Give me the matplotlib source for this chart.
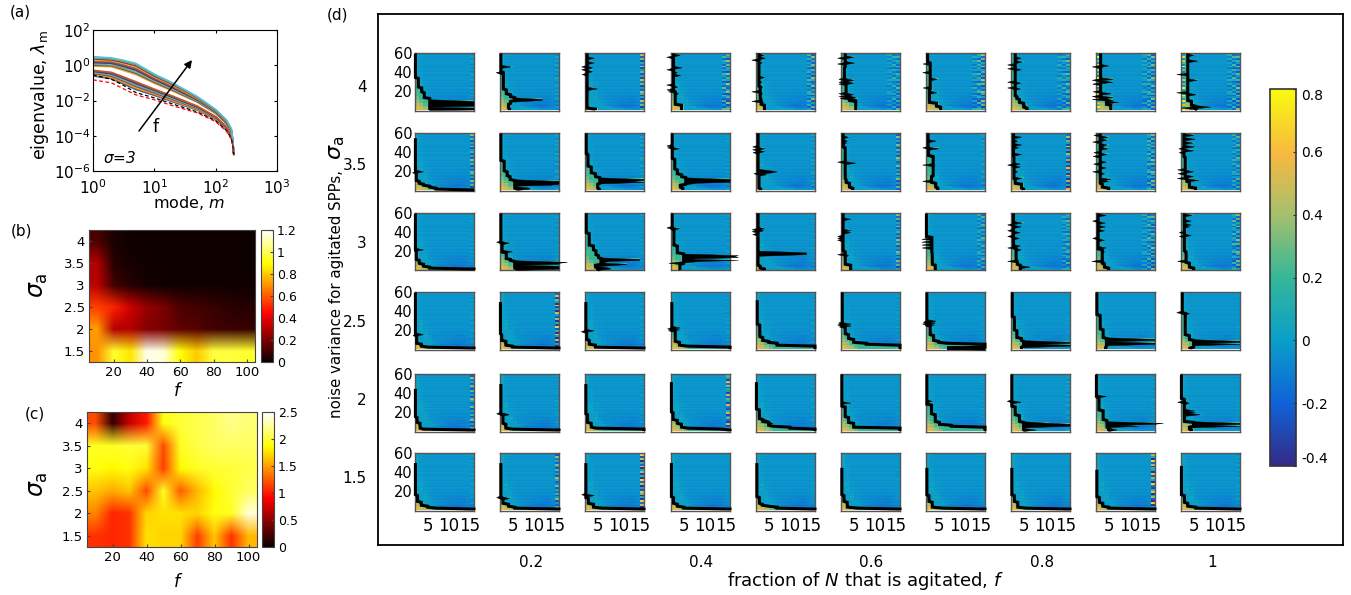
from __future__ import annotations

import matplotlib

matplotlib.use("Agg")

import matplotlib.pyplot as plt
import numpy as np
from matplotlib.cm import ScalarMappable
from matplotlib.colors import LinearSegmentedColormap, Normalize

W, H = 1351, 595

# panel (a): log10 of the eigenvalue at each mode, one row per curve
MODES = [1, 2, 3, 5, 10, 20, 50, 100, 150, 180, 190, 197]
EIG_RED = [-.83, -1.00, -1.30, -1.68, -1.96, -2.30, -2.70, -3.20, -3.75, -4.20, -4.55, -5.07]
EIG_BLACK = [-.55, -.80, -1.10, -1.55, -1.85, -2.20, -2.65, -3.15, -3.70, -4.15, -4.50, -5.07]
EIG_LOG = [
    [-.61, -.76, -1.03, -1.38, -1.71, -2.08, -2.54, -3.08, -3.64, -4.10, -4.49, -5.07],
    [-.57, -.72, -.98, -1.32, -1.67, -2.04, -2.51, -3.06, -3.62, -4.08, -4.48, -5.07],
    [-.53, -.67, -.93, -1.27, -1.62, -2.00, -2.49, -3.04, -3.60, -4.06, -4.47, -5.07],
    [-.47, -.62, -.87, -1.20, -1.57, -1.95, -2.45, -3.01, -3.57, -4.04, -4.46, -5.05],
    [-.43, -.57, -.82, -1.14, -1.52, -1.91, -2.42, -2.99, -3.55, -4.02, -4.45, -5.05],
    [-.39, -.53, -.77, -1.09, -1.48, -1.87, -2.39, -2.97, -3.54, -4.00, -4.43, -5.05],
    [-.35, -.49, -.72, -1.04, -1.43, -1.83, -2.37, -2.95, -3.52, -3.98, -4.42, -5.03],
    [-.31, -.45, -.68, -.98, -1.39, -1.79, -2.34, -2.93, -3.50, -3.97, -4.41, -5.03],
    [-.28, -.40, -.63, -.93, -1.35, -1.75, -2.31, -2.91, -3.48, -3.95, -4.40, -5.03],
    [-.05, -.09, -.28, -.53, -1.03, -1.47, -2.10, -2.75, -3.33, -3.82, -4.33, -5.00],
    [.00, -.03, -.21, -.46, -.97, -1.42, -2.07, -2.72, -3.31, -3.79, -4.31, -5.00],
    [.05, .01, -.16, -.41, -.92, -1.38, -2.04, -2.70, -3.29, -3.77, -4.30, -5.00],
    [.10, .07, -.10, -.34, -.86, -1.33, -2.00, -2.68, -3.26, -3.75, -4.29, -4.98],
    [.15, .11, -.05, -.28, -.82, -1.29, -1.97, -2.65, -3.24, -3.73, -4.28, -4.98],
    [.20, .16, .01, -.21, -.76, -1.23, -1.94, -2.63, -3.22, -3.71, -4.26, -4.98],
    [.25, .21, .06, -.16, -.72, -1.20, -1.91, -2.60, -3.20, -3.69, -4.25, -4.95],
    [.30, .26, .12, -.09, -.66, -1.14, -1.87, -2.58, -3.17, -3.67, -4.24, -4.95],
    [.35, .30, .17, -.03, -.62, -1.10, -1.84, -2.56, -3.15, -3.65, -4.23, -4.95],
    [.42, .36, .24, .04, -.56, -1.05, -1.81, -2.53, -3.13, -3.62, -4.21, -4.90],
    [.49, .42, .30, .11, -.50, -1.00, -1.77, -2.50, -3.10, -3.60, -4.20, -4.90],
]
LINE_COLORS = ["#0072bd", "#d95319", "#edb120", "#7e2f8e", "#77ac30", "#4dbeee", "#a2142f"]

# panels (b) and (c): rows are sigma 1.5 ... 4, columns are f 10 ... 100
MAP_B = [
    [.70, .95, .85, 1.18, 1.15, .90, .80, .97, .97, .95],
    [.72, .30, .30, .22, .20, .15, .14, .10, .09, .08],
    [.55, .50, .35, .25, .20, .12, .10, .08, .06, .05],
    [.32, .10, .05, .02, .01, .01, .01, .01, .01, .01],
    [.30, .05, .02, .01, .01, .01, .01, .01, .01, .01],
    [.12, .03, .01, .01, .01, .01, .01, .01, .01, .01],
]
MAP_C = [
    [1.10, 1.05, 1.10, 1.75, 1.70, 1.70, 1.15, 1.65, 1.10, 1.60],
    [1.40, 1.05, 1.10, 1.70, 1.75, 1.75, 1.70, 1.90, 1.95, 2.40],
    [1.65, 1.55, 1.65, 1.20, 1.95, 1.25, 1.60, 1.85, 2.00, 2.10],
    [1.90, 1.85, 1.90, 1.75, 1.15, 1.85, 1.95, 2.00, 2.00, 2.05],
    [1.95, 1.95, 2.00, 2.00, 1.20, 1.95, 2.05, 2.10, 2.10, 2.10],
    [1.20, .15, .70, 1.00, 1.90, 2.00, 2.05, 2.10, 2.20, 2.15],
]
F_TICKS = [20, 40, 60, 80, 100]
SIGMA_TICKS = [1.5, 2, 2.5, 3, 3.5, 4]
SIGMA_LABELS = ["1.5", "2", "2.5", "3", "3.5", "4"]

# panel (d): frame ticks and pixel boxes of the small panels
D_F_TICKS = [0.2, 0.4, 0.6, 0.8, 1]
D_F_LABELS = ["0.2", "0.4", "0.6", "0.8", "1"]
COL_LEFT = [415, 500, 585, 671, 756, 841, 926, 1011, 1096, 1181]
ROW_TOP = [53, 133, 213, 292, 374, 453]

# background of a small panel: value per band of rows (bottom up) and column
BAND_EDGES = [0, 2, 4, 7, 10, 14, 20, 30, 45, 60]
BAND_VALUES = [
    [.58, .52, .42, .32, .20, .10, .05, .02, .00, -.03, -.04, -.04, -.04, -.04],
    [.52, .45, .35, .22, .10, .02, -.05, -.08, -.10, -.12, -.12, -.10, -.08, -.10],
    [.45, .38, .25, .10, -.02, -.06, -.08, -.09, -.11, -.12, -.12, -.11, -.09, -.08],
    [.38, .28, .12, .00, -.04, -.05, -.06, -.08, -.09, -.09, -.10, -.10, -.08, -.06],
    [.30, .20, .05, -.02, -.04, -.05, -.06, -.06, -.07, -.07, -.08, -.08, -.06, -.05],
    [.24, .12, .00, -.03, -.04, -.04, -.05, -.05, -.05, -.05, -.06, -.05, -.05, -.04],
    [.18, .04, -.02, -.03, -.04, -.04, -.04, -.04, -.04, -.04, -.04, -.04, -.04, -.03],
    [.08, -.01, -.03, -.03, -.03, -.03, -.03, -.03, -.03, -.03, -.03, -.03, -.03, -.03],
    [.02, -.02, -.03, -.03, -.03, -.03, -.03, -.03, -.03, -.03, -.03, -.03, -.03, -.03],
]
ROW_STREAK = [
    .01, -.01, .02, 0, -.02, .01, .02, -.01, 0, .02, -.02, .01, 0, -.01, .02,
    -.01, 0, .01, -.02, .02, 0, -.01, .01, .02, -.02, 0, .01, -.01, .02, 0,
    -.01, .01, 0, .02, -.01, 0, -.02, .01, .01, -.01, 0, .02, -.01, .01, 0,
    -.02, .01, 0, .01, -.01, .02, 0, -.01, .01, 0, -.01, .01, 0, .01, -.01,
]

# stripes seen along the right edge, each entry covers two rows
STRIPES = [
    [1, -.5, .2, -.4, .7, -.5, .1, .9, -.5, .3, -.3, 1, -.4, .2, -.5, .6, -.3, .1, .8, -.5, .2, -.4, 1, -.5, .1, .5, -.4, .8, -.2, .3],
    [-.4, .9, -.3, .2, -.5, 1, .1, -.5, .6, -.2, .3, -.5, .9, -.1, -.4, .4, 1, -.5, .2, -.3, .7, -.5, .1, .9, -.4, .3, -.2, 1, -.5, .2],
    [.3, -.5, .8, -.1, 1, -.4, .2, -.5, .5, .9, -.3, .1, -.5, .7, -.2, 1, -.5, .3, -.4, .6, .1, -.5, .9, -.2, .3, -.5, .7, -.3, 1, -.1],
    [.8, .2, -.4, 1, -.5, -.2, .6, .1, -.5, .9, .3, -.4, -.1, 1, -.5, .2, .5, -.3, .9, -.5, .1, .3, -.4, .7, -.2, 1, -.5, .2, .6, -.4],
]
STRIPE_ID = [
    [0, 1, 2, 3, 1, 0, 2, 3, 1, 0],
    [2, 3, 1, 0, 2, 1, 3, 0, 2, 1],
    [0, 1, 2, 3, 0, 2, 1, 3, 0, 2],
    [3, 0, 1, 2, 3, 0, 1, 2, 3, 0],
    [1, 2, 0, 3, 1, 2, 0, 3, 1, 2],
    [3, 1, 2, 0, 3, 1, 2, 0, 3, 1],
]
EDGE_AMP = [
    [.10, .10, .50, .45, .40, .30, .45, .35, .40, .40],
    [.40, .10, .10, .05, .10, .40, .10, .60, .40, .30],
    [.05, .05, .03, .05, .05, .40, .30, .30, .40, .40],
    [.05, .70, .05, .05, .05, .05, .02, .02, .02, .02],
    [.40, .05, .05, .55, .05, .02, .05, .10, .05, .02],
    [.05, .40, .70, .02, .02, .02, .02, .02, .70, .05],
]
EDGE_WIDTH = [
    [1, 1, 1, 2, 2, 3, 3, 3, 3, 3],
    [1, 1, 1, 1, 1, 1, 1, 1, 2, 2],
    [1, 1, 1, 1, 1, 1, 2, 2, 3, 2],
    [1, 1, 1, 1, 1, 1, 1, 1, 1, 1],
    [1, 1, 1, 1, 1, 1, 1, 1, 1, 1],
    [1, 1, 1, 1, 1, 1, 1, 1, 1, 1],
]
EDGE_FADE = [1.0, 0.7, 0.45]
LEFT_STRIPED = [(0, 8), (0, 9)]

# black curves, one list per noise level: (stairs as (row, x), spikes as {row: x})
CURVES_S40 = [
    ([(60, 2.1), (34, 2.8), (24, 3.6), (19, 4.2), (13, 5.5)], {10: 16, 9: 16, 8: 16, 7: 16, 6: 16, 5: 16, 4: 6, 3: 16, 2: 16, 1: 16}),
    ([(60, 2.2), (40, 2.8), (22, 3.5), (17, 4.5), (14, 5.5), (10, 4.5), (7, 4), (2, 4.3)], {46: 4.6, 40: 1.1, 39: 1.6, 12: 12, 11: 12}),
    ([(60, 2.5), (2, 4.5)], {55: 4.2, 50: 4.2, 46: 1.2, 45: 3.8, 43: 1.2, 41: 3.8, 38: 1.3, 23: 5}),
    ([(60, 2.6), (20, 3), (6, 4.5)], {58: 4.2, 56: 1, 45: 4.6, 43: 1, 40: 3.5, 37: 4.3, 27: 1, 25: 3.6, 22: 1, 20: 1.4, 18: 3.8}),
    ([(60, 2.7), (25, 3), (12, 3.2), (6, 4)], {58: 3.8, 55: 4.2, 53: 1, 50: 3.4, 35: 4, 30: 3.4, 25: 3.6, 20: 1, 18: 3.6, 10: 1, 9: 3.8}),
    ([(60, 3), (45, 2.8), (32, 3.2), (15, 4), (10, 5.5)], {56: 5, 55: 1.2, 50: 5.2, 49: 1.2, 33: 1.5, 32: 5, 30: 1.5, 29: 5, 28: 1.5, 18: 1.5, 17: 5, 15: 1.5, 14: 5.5, 13: 1.8, 12: 5.8}),
    ([(60, 2.4), (50, 3), (30, 3), (22, 2.8), (8, 4.5), (4, 5.5)], {49: 1.3, 40: 1.2, 33: 4.6, 24: 1.3, 19: 4.6}),
    ([(60, 3), (15, 3.4), (12, 4), (8, 5), (3, 5.8)], {55: 4.4, 51: 4.6, 48: 1.2, 44: 1.2, 43: 4.4, 30: 1.2, 29: 4.3, 24: 1.2, 23: 4.2, 5: 5.6}),
    ([(60, 3.1), (12, 4.5), (6, 5.5)], {47: 5, 46: 1.1, 33: 6, 32: 1.1, 30: 6, 28: 1.2, 20: 1.3, 18: 5.6, 15: 1.1, 14: 6, 12: 1.1, 11: 6, 9: 7.3}),
    ([(60, 3.6), (10, 4.5), (5, 5.5)], {58: 5, 52: 6, 38: 1, 32: 5.8, 19: 1, 17: 5.6, 4: 9, 3: 2, 2: 6, 1: 5.5}),
]
CURVES_S35 = [
    ([(55, 2.1), (20, 2.3), (10, 3), (7, 4), (5, 5.5), (3, 7), (1, 16)], {20: 4, 19: 1.4}),
    ([(60, 2.2), (31, 3), (20, 3.7), (15, 4.4), (11, 5.5), (2, 6)], {10: 16, 9: 16, 8: 16, 7: 16, 6: 14, 5: 6, 3: 9, 2: 9}),
    ([(60, 2.3), (38, 2.7), (25, 3.5), (18, 4.5), (14, 5.5), (7, 5), (2, 5.4)], {12: 16, 11: 16, 10: 13, 9: 16}),
    ([(60, 2.3), (33, 2.9), (22, 3.5), (17, 4.5), (14, 5.5), (6, 4.2), (3, 4.8)], {47: 1, 45: 1.2, 44: 4, 12: 16, 11: 16, 10: 16, 9: 16, 8: 8}),
    ([(60, 2.5), (20, 2.7), (2, 3.1)], {46: 1.2, 44: 4, 43: 1.2, 41: 4, 40: 1.3, 21: 5.5, 20: 7, 19: 6, 18: 1.5, 17: 4.5}),
    ([(60, 2.5), (45, 3), (12, 3.2), (8, 4), (3, 4.8)], {56: 3.8, 52: 3.5, 50: 3.3, 30: 1.2, 29: 5.5}),
    ([(60, 2.5), (45, 2.6), (36, 3.7), (15, 3.3), (8, 4.3), (3, 4.8)], {52: 4.4, 45: 1.2, 44: 5, 27: 1.2, 26: 4, 10: 1.2}),
    ([(60, 2.6), (35, 2.7), (12, 3), (7, 4.5), (2, 5)], {56: 4.5, 52: 3.6, 48: 4.5, 45: 3.8, 38: 4.5, 28: 4.2, 27: 1.2, 25: 4.2, 20: 3.6, 13: 4.6}),
    ([(60, 3), (7, 3.5), (3, 5)], {58: 1.5, 56: 4.8, 53: 4.6, 51: 1.2, 48: 4.6, 46: 4, 44: 4.8, 40: 1.5, 38: 4.6, 36: 1.3, 30: 4.4, 28: 1.4, 24: 4.4, 20: 1.2, 18: 4, 12: 5.5, 10: 5}),
    ([(60, 2.7), (35, 3), (14, 3.4), (9, 4), (3, 5.5)], {58: 5, 54: 5.4, 50: 4.8, 46: 5.2, 44: 1.5, 42: 5, 40: 1.6, 22: 1.2, 20: 5, 18: 1.3, 15: 5, 13: 1.1, 11: 6.2}),
]
CURVES_S30 = [
    ([(60, 2.1), (21, 2.3), (11, 3), (7, 4), (4, 5.5), (2, 16)], {22: 4, 21: 1.8}),
    ([(60, 2.2), (29, 2.5), (19, 3.5), (12, 4.5), (10, 5.5), (2, 6)], {30: 1.2, 29: 4.2, 20: 5, 9: 18, 8: 16, 7: 16, 6: 7, 5: 16, 4: 16, 3: 16, 2: 16}),
    ([(60, 2.3), (39, 3), (26, 4), (21, 4.6), (16, 5.2), (13, 5.8), (6, 4.5), (3, 5), (1, 5.5)], {12: 15, 11: 15, 10: 8, 8: 7, 7: 12, 6: 10, 3: 8, 2: 8}),
    ([(60, 2.3), (43, 2.7), (26, 3.5), (18, 5), (7, 4.1), (1, 4.2)], {45: 1, 44: 4, 16: 18, 15: 17, 14: 18, 12: 8, 11: 18, 10: 9, 8: 1.5, 6: 4}),
    ([(60, 2.5), (5, 3), (2, 4)], {44: 4, 43: 1.1, 42: 3.8, 41: 1.1, 38: 1.2, 19: 14, 18: 14, 17: 14}),
    ([(60, 2.5), (20, 3), (6, 4.3)], {54: 4.3, 42: 4.3, 40: 4.3, 36: 1.2, 34: 1.2, 32: 1.2, 17: 1.2, 16: 3.8}),
    ([(60, 2.1), (35, 3.4), (18, 3.5), (6, 4.2)], {33: 1, 32: 3.4, 30: 1, 29: 3.4, 27: 1, 26: 3.4, 24: 1.1, 18: 3.2}),
    ([(60, 2.6), (25, 3.2), (10, 3.5), (6, 4.2)], {50: 4.6, 48: 1.2, 46: 4.4, 42: 1.2, 40: 4.2, 36: 1.2, 34: 4, 26: 4.2, 24: 1.2, 22: 4.4, 10: 1.2, 4: 6.5}),
    ([(60, 2.5), (22, 3.5), (7, 4), (3, 5)], {58: 4.4, 52: 1.2, 50: 4.2, 46: 4.2, 42: 4, 34: 1.2, 32: 4, 24: 4.4, 20: 4, 10: 1, 9: 4.2}),
    ([(60, 2.8), (20, 3.2), (8, 4), (3, 5)], {58: 4.6, 52: 4.4, 48: 4.4, 46: 4, 40: 1.6, 37: 4.4, 36: 1.6, 10: 1.2, 8: 3.8}),
]
CURVES_S25 = [
    ([(60, 2.1), (15, 2.4), (6, 3.5), (3, 5), (2, 16)], {16: 4, 15: 1.5}),
    ([(50, 2.1), (16, 2.4), (9, 3.4), (4, 5), (2, 16)], {}),
    ([(50, 2.2), (18, 2.4), (10, 3), (5, 4.5), (2, 16)], {20: 4.2, 19: 1.1}),
    ([(50, 2.2), (20, 3), (8, 4), (4, 6), (3, 16), (1, 16)], {23: 4.2, 22: 1.2, 21: 4, 20: 1.4}),
    ([(52, 2.3), (26, 2.9), (13, 3.6), (9, 5), (7, 7), (4, 16), (2, 16)], {}),
    ([(60, 2.3), (24, 3), (16, 3.8), (11, 5), (7, 8), (5, 16), (1, 16)], {28: 1.4, 27: 4.4, 26: 1.2, 25: 4.4, 24: 1.6}),
    ([(60, 2.2), (25, 3), (15, 3.8), (9, 5), (7, 7), (6, 16), (4, 16), (2, 7), (1, 16)], {30: 4.4, 29: 1.4, 28: 4.2, 27: 1.2, 26: 4}),
    ([(60, 2.3), (34, 2.8), (20, 3.4), (12, 4.5), (9, 5), (3, 4.5)], {8: 16, 7: 16, 5: 16, 4: 16}),
    ([(60, 2.2), (36, 3), (21, 3.7), (12, 4.5), (3, 4.3)], {11: 16, 10: 16, 7: 16, 6: 16}),
    ([(60, 2.3), (38, 3), (15, 4), (10, 5), (2, 4.1)], {39: 1, 38: 4, 9: 16, 8: 16, 7: 8, 6: 16}),
]
CURVES_S20 = [
    ([(45, 2.1), (15, 2.5), (9, 3.2), (3, 4), (2, 16)], {}),
    ([(50, 2.2), (18, 2.7), (8, 3.4), (3, 5), (2, 16)], {19: 1.2, 18: 4.2}),
    ([(50, 2.2), (18, 2.6), (9, 3.5), (4, 4.5), (3, 16), (1, 16)], {}),
    ([(52, 2.1), (20, 2.5), (12, 3.5), (8, 4.5), (4, 6), (3, 14), (2, 16)], {}),
    ([(52, 2.1), (23, 2.8), (13, 3.6), (10, 5), (6, 6), (5, 10), (3, 16), (2, 16)], {12: 5, 9: 6}),
    ([(60, 2.2), (26, 3), (15, 3.8), (9, 5), (4, 16), (2, 16)], {30: 4.3, 29: 2.4}),
    ([(60, 2.2), (28, 3.3), (18, 4.2), (10, 5.2), (7, 8), (5, 16), (3, 16)], {32: 3.4, 30: 2.8}),
    ([(60, 2.2), (26, 3), (17, 4), (10, 5), (4, 5), (1, 5)], {32: 1.1, 31: 4.4, 9: 11, 8: 16, 7: 16, 6: 16, 2: 8}),
    ([(60, 2.1), (36, 2.7), (22, 3.7), (12, 4.6), (4, 5), (1, 5)], {37: 4.5, 9: 18, 8: 16, 6: 12, 3: 6, 2: 7}),
    ([(60, 2.1), (34, 2.8), (10, 5), (5, 4), (2, 4.5)], {31: 1.2, 30: 4, 22: 5.2, 20: 5.4, 18: 6.6, 9: 16, 8: 16, 7: 9, 6: 16}),
]
CURVES_S15 = [
    ([(50, 2.1), (16, 2.6), (9, 3.5), (5, 5), (3, 7), (2, 16)], {}),
    ([(50, 2.2), (13, 2.7), (7, 4), (4, 5.5), (2, 16)], {14: 1.2, 13: 4.2}),
    ([(50, 2.2), (13, 2.8), (7, 4), (3, 6), (2, 16)], {17: 1.2, 16: 4.2}),
    ([(50, 2.1), (14, 2.6), (7, 3.5), (4, 5), (2, 16)], {}),
    ([(50, 2.2), (14, 2.8), (7, 3.5), (5, 5), (4, 7), (2, 16)], {}),
    ([(45, 2.2), (16, 2.7), (9, 3.5), (3, 6), (2, 16)], {}),
    ([(45, 2.2), (16, 2.7), (9, 3.5), (3, 6), (2, 16)], {}),
    ([(45, 2.2), (16, 2.8), (9, 3.6), (3, 5.5), (2, 16)], {}),
    ([(43, 2.2), (14, 2.8), (8, 3.6), (4, 5), (2, 16)], {}),
    ([(47, 2.1), (16, 2.8), (8, 3.6), (4, 5.5), (2, 16)], {}),
]

PARULA_STOPS = ["#352a87", "#0f62d8", "#0a9fc9", "#35b799", "#a5bf6d", "#f8b93f", "#f9fb0e"]


def px_axes(fig, left, top, right, bottom, **kwargs):
    return fig.add_axes([left / W, 1 - bottom / H, (right - left) / W, (bottom - top) / H], **kwargs)


def curve_points(stairs, spikes):
    top = stairs[0][0]
    rows = list(range(top, 0, -1))
    plain = []
    for row in rows:
        value = stairs[0][1]
        for start, x in stairs:
            if row <= start:
                value = x
        plain.append(value)
    full = [spikes.get(row, x) for row, x in zip(rows, plain)]
    return rows, plain, full


def spike_groups(spikes, base):
    # neighbouring rows that stick out on the same side become one black wedge
    groups = []
    for row in sorted(spikes, reverse=True):
        side = spikes[row] > base.get(row, 2.1)
        if groups and groups[-1][-1] == row + 1 and groups[-1][0] == side:
            groups[-1].append(row)
        else:
            groups.append([side, row])
    return [group[1:] for group in groups]


def panel_matrix(curve, amp, width, stripe_id, left_striped):
    heat = np.zeros((60, 14))
    for k in range(len(BAND_VALUES)):
        heat[BAND_EDGES[k]:BAND_EDGES[k + 1], :] = BAND_VALUES[k]
    heat += np.array(ROW_STREAK)[:, None]

    rows, plain, full = curve_points(*curve)
    teal_top = 0.2
    for row, x_plain, x_full in zip(rows, plain, full):
        centers = 2.5 + np.arange(14)
        line = heat[row - 1]
        line[(centers > x_plain) & (line > 0.05)] = 0.0
        inside = centers < max(x_plain, x_full)
        line[inside] = np.maximum(line[inside], teal_top)

    for k in range(width):
        strip = np.repeat(STRIPES[(stripe_id + k) % len(STRIPES)], 2)
        heat[:, 13 - k] += amp * EDGE_FADE[k] * strip
    if left_striped:
        heat[:, 0] += 0.6 * np.repeat(STRIPES[stripe_id], 2)
    return heat


def draw_small_panel(fig, parula, row, col, curve):
    left = COL_LEFT[col]
    top = ROW_TOP[row]
    ax = px_axes(fig, left, top, left + 59, top + 57.5)
    heat = panel_matrix(curve, EDGE_AMP[row][col], EDGE_WIDTH[row][col],
                        STRIPE_ID[row][col], (row, col) in LEFT_STRIPED)
    ax.imshow(heat, origin="lower", extent=[2, 16, 0, 60], aspect="auto",
              cmap=parula, vmin=-0.4, vmax=0.8, interpolation="nearest")
    rows, plain, _ = curve_points(*curve)
    ys = np.array(rows) - 0.5
    ax.plot(plain, ys, color="black", lw=2.2, clip_on=False,
            solid_joinstyle="miter", solid_capstyle="butt", zorder=5)
    base = dict(zip(rows, plain))
    for group in spike_groups(curve[1], base):
        first, last = group[0], group[-1]
        xs = [base.get(first, 2.1)] + [curve[1][r] for r in group] + [base.get(last, 2.1)]
        yy = [min(first + 1.2, 60)] + [r - 0.5 for r in group] + [max(last - 2.2, 0)]
        ax.fill(xs, yy, color="black", lw=0.3, clip_on=False, zorder=5)
    ax.set_xlim(2, 16)
    ax.set_ylim(0, 60)
    ax.set_xticks([5, 10, 15] if row == 5 else [])
    ax.set_yticks([20, 40, 60] if col == 0 else [])
    ax.tick_params(axis="y", length=0, labelsize=10.5, pad=2)
    ax.tick_params(axis="x", length=0, labelsize=12, pad=5)
    for spine in ax.spines.values():
        spine.set_color("#555555")
        spine.set_linewidth(1.0)


def draw_heat_panel(fig, box, cbar_box, values, vmax, ticks, tick_labels):
    ax = px_axes(fig, *box)
    im = ax.imshow(values, origin="lower", extent=[5, 105, 1.25, 4.25], aspect="auto",
                   cmap="hot", vmin=0, vmax=vmax, interpolation="bilinear",
                   interpolation_stage="rgba")
    ax.set_xticks(F_TICKS)
    ax.set_yticks(SIGMA_TICKS, SIGMA_LABELS)
    ax.tick_params(length=2, direction="in", labelsize=9.5, pad=3, color="#444444")
    for spine in ax.spines.values():
        spine.set_color("#444444")
        spine.set_linewidth(0.8)

    cax = px_axes(fig, *cbar_box)
    cb = fig.colorbar(im, cax=cax)
    cb.set_ticks(ticks, labels=tick_labels)
    cb.ax.tick_params(length=2, direction="in", labelsize=9, pad=3, color="#444444")
    cb.outline.set_edgecolor("#444444")
    cb.outline.set_linewidth(0.8)
    return ax


def main():
    fig = plt.figure(figsize=(W / 100, H / 100), dpi=100)

    # (a)
    ax = px_axes(fig, 93, 30, 277, 171)
    for k, values in enumerate(EIG_LOG):
        ax.loglog(MODES, 10.0 ** np.array(values), color=LINE_COLORS[k % 7], lw=1.1)
    ax.loglog(MODES, 10.0 ** np.array(EIG_BLACK), color="black", lw=0.9, ls=(0, (3, 2)))
    ax.loglog(MODES, 10.0 ** np.array(EIG_RED), color="red", lw=0.9, ls=(0, (3, 2)))
    ax.set_xlim(1, 1000)
    ax.set_ylim(1e-6, 1e2)
    ax.set_xticks([1, 10, 100, 1000])
    ax.set_yticks([1e-6, 1e-4, 1e-2, 1, 1e2])
    ax.minorticks_off()
    ax.tick_params(which="major", direction="in", length=2.5, top=True, right=True, labelsize=11, pad=5)
    ax.tick_params(axis="y", pad=2)
    fig.text(189 / W, 1 - 203 / H, "mode, $m$", fontsize=11.5, ha="center", va="center")
    fig.text(40 / W, 1 - 95 / H, r"eigenvalue, $\lambda_{\mathrm{m}}$", fontsize=12.5, rotation=90,
             ha="center", va="center")
    ax.annotate("", xy=(192 / W, 1 - 60 / H), xytext=(139 / W, 1 - 131 / H), xycoords="figure fraction",
                arrowprops=dict(arrowstyle="-|>", color="black", lw=1.1, mutation_scale=11, shrinkA=0, shrinkB=0))
    fig.text(156 / W, 1 - 127 / H, "f", fontsize=12.5, ha="center", va="center")
    fig.text(120 / W, 1 - 158 / H, r"$\sigma$=3", fontsize=11, ha="center", va="center", style="italic")

    # (b) and (c)
    draw_heat_panel(fig, (89, 230, 255, 362), (261, 230, 273, 362), MAP_B, 1.2,
                    [0, 0.2, 0.4, 0.6, 0.8, 1, 1.2], ["0", "0.2", "0.4", "0.6", "0.8", "1", "1.2"])
    fig.text(177 / W, 1 - 391 / H, "f", style="italic", fontsize=12.5, ha="center", va="center")
    fig.text(38 / W, 1 - 285 / H, r"$\sigma_{\mathrm{a}}$", rotation=90, fontsize=17, ha="center", va="center")
    draw_heat_panel(fig, (87, 412, 257, 547), (262, 412, 274, 547), MAP_C, 2.5,
                    [0, 0.5, 1, 1.5, 2, 2.5], ["0", "0.5", "1", "1.5", "2", "2.5"])
    fig.text(177 / W, 1 - 582 / H, "f", style="italic", fontsize=12.5, ha="center", va="center")
    fig.text(38 / W, 1 - 484 / H, r"$\sigma_{\mathrm{a}}$", rotation=90, fontsize=17, ha="center", va="center")

    # (d) outer frame carries the axis labels
    frame = px_axes(fig, 378, 14, 1343, 545)
    frame.set_xlim(0.02, 1.154)
    frame.set_ylim(1.065, 4.46)
    frame.set_xticks(D_F_TICKS, D_F_LABELS)
    frame.set_yticks(SIGMA_TICKS, SIGMA_LABELS)
    frame.tick_params(length=0, labelsize=11, pad=8)
    frame.tick_params(axis="x", pad=7)
    for spine in frame.spines.values():
        spine.set_linewidth(1.3)
    fig.text(865 / W, 1 - 581 / H, "fraction of $N$ that is agitated, $f$", fontsize=13, ha="center", va="center")
    fig.text(337 / W, 1 - 294 / H, "noise variance for agitated SPPs,", rotation=90, fontsize=10.8, ha="center", va="center")
    fig.text(337 / W, 1 - 148 / H, r"$\sigma_{\mathrm{a}}$", rotation=90, fontsize=16, ha="center", va="center")

    parula = LinearSegmentedColormap.from_list("parula_like", PARULA_STOPS)
    all_curves = [CURVES_S40, CURVES_S35, CURVES_S30, CURVES_S25, CURVES_S20, CURVES_S15]
    for row, curves in enumerate(all_curves):
        for col, curve in enumerate(curves):
            draw_small_panel(fig, parula, row, col, curve)

    cax = px_axes(fig, 1270, 89, 1296, 466)
    cb = fig.colorbar(ScalarMappable(Normalize(-0.4, 0.8), parula), cax=cax)
    cb.set_ticks([-0.4, -0.2, 0, 0.2, 0.4, 0.6, 0.8], labels=["-0.4", "-0.2", "0", "0.2", "0.4", "0.6", "0.8"])
    cb.ax.tick_params(length=2, direction="in", labelsize=10, pad=4, color="#333333")
    labels = cb.ax.get_yticklabels()
    labels[0].set_va("bottom")
    labels[-1].set_va("top")
    cb.outline.set_edgecolor("#333333")
    cb.outline.set_linewidth(1.2)

    for text, x, y in [("(a)", 20, 12), ("(b)", 21, 231), ("(c)", 35, 414), ("(d)", 338, 15)]:
        fig.text(x / W, 1 - y / H, text, fontsize=11, ha="center", va="center")

    fig.savefig("out.png", dpi=100)
    plt.close(fig)


if __name__ == "__main__":
    main()
